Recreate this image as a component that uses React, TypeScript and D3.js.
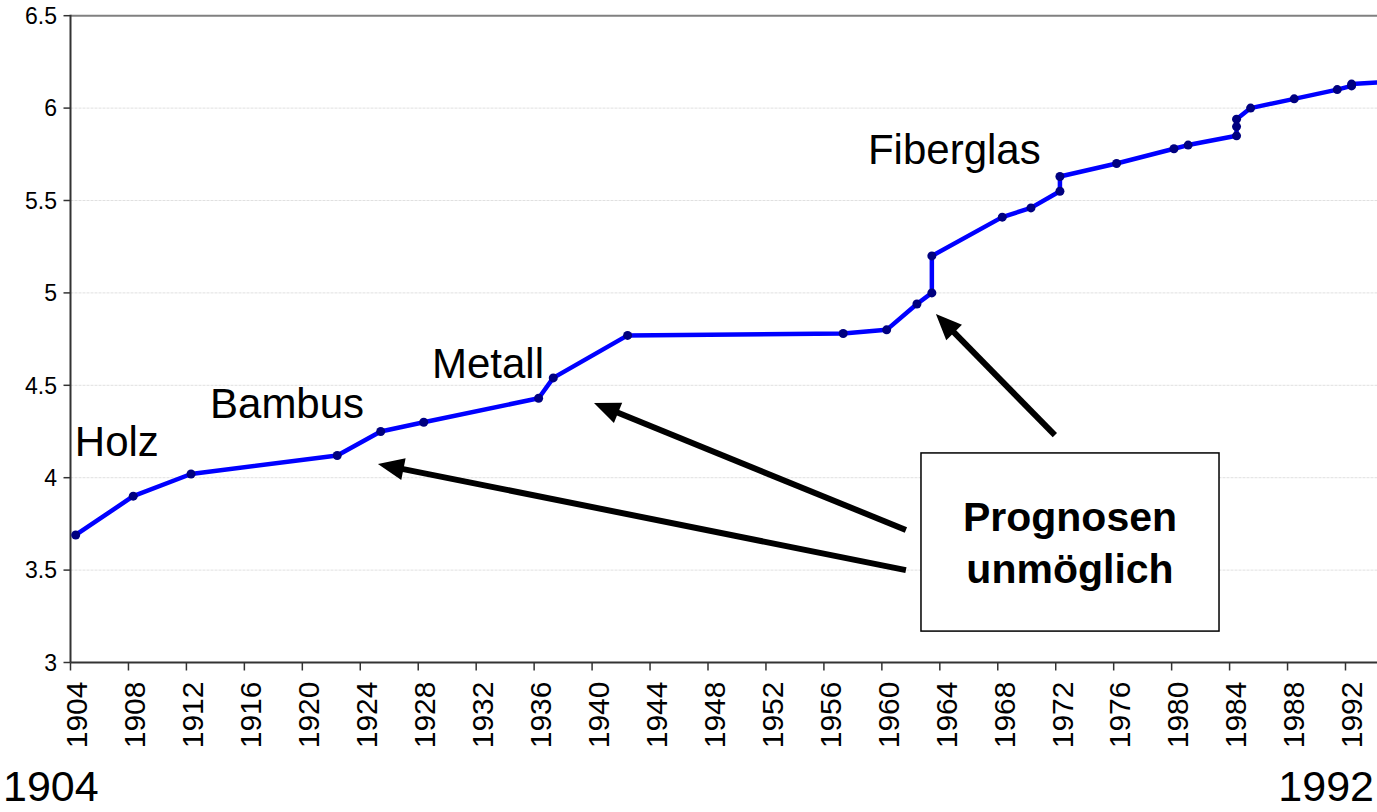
import React from 'react';
import * as d3 from 'd3';

const recordYears = [1904.36, 1908.33, 1912.32, 1922.41, 1925.41, 1928.38, 1936.31, 1937.32, 1942.45, 1957.33, 1960.33, 1962.42, 1963.45, 1963.45, 1968.31, 1970.29, 1972.29, 1972.29, 1976.2, 1980.16, 1981.14, 1984.48, 1984.48, 1984.48, 1985.45, 1988.46, 1991.43, 1992.42, 1992.42, 1994.6];
const recordHeights = [3.69, 3.9, 4.02, 4.12, 4.25, 4.3, 4.43, 4.54, 4.77, 4.78, 4.8, 4.94, 5.0, 5.2, 5.41, 5.46, 5.55, 5.63, 5.7, 5.78, 5.8, 5.85, 5.9, 5.94, 6.0, 6.05, 6.1, 6.12, 6.13, 6.14];

const xTickYears = d3.range(1904, 1993, 4);
const yTickValues = [3, 3.5, 4, 4.5, 5, 5.5, 6, 6.5];

const materialLabels = ['Holz', 'Bambus', 'Metall', 'Fiberglas'];
const materialLabelYears = [1904.3, 1913.63, 1928.95, 1959.04];
const materialLabelHeights = [4.117, 4.323, 4.54, 5.7];

const arrowFromYears = [1961.66, 1961.66, 1971.94];
const arrowFromHeights = [3.5, 3.717, 4.23];
const arrowToYears = [1925.22, 1940.13, 1963.73];
const arrowToHeights = [4.074, 4.404, 4.886];

const boxYears = [1962.7, 1983.27];
const boxHeights = [4.134, 3.17];
const boxLines = ['Prognosen', 'unmöglich'];

const rangeLabels = ['1904', '1992'];

const W = 1377;
const H = 812;
const FONT = '"Liberation Sans", Arial, Helvetica, sans-serif';

export default function App() {
  const x = d3.scaleLinear().domain([1904, 1992]).range([70.5, 1345.5]);
  const y = d3.scaleLinear().domain([3, 6.5]).range([662.5, 15.7]);
  const pts: [number, number][] = recordYears.map((yr, i) => [yr, recordHeights[i]]);
  const line = d3.line<[number, number]>().x(d => x(d[0])).y(d => y(d[1]));
  const plotLeft = x(1904);
  const plotBottom = y(3);
  const plotTop = y(6.5);

  const arrows = arrowFromYears.map((_, i) => {
    const x1 = x(arrowFromYears[i]);
    const y1 = y(arrowFromHeights[i]);
    const x2 = x(arrowToYears[i]);
    const y2 = y(arrowToHeights[i]);
    const dx = x2 - x1;
    const dy = y2 - y1;
    const len = Math.hypot(dx, dy);
    const ux = dx / len;
    const uy = dy / len;
    const hl = 26;
    const hw = 11;
    const bx = x2 - ux * hl;
    const by = y2 - uy * hl;
    const px = -uy;
    const py = ux;
    const head = `${x2},${y2} ${bx + px * hw},${by + py * hw} ${bx - px * hw},${by - py * hw}`;
    return { x1, y1, bx: x2 - ux * (hl - 4), by: y2 - uy * (hl - 4), head };
  });

  const bx0 = x(boxYears[0]);
  const bx1 = x(boxYears[1]);
  const by0 = y(boxHeights[0]);
  const by1 = y(boxHeights[1]);

  return (
    <svg width={W} height={H} style={{ position: 'absolute', left: 0, top: 0, display: 'block', background: '#fff' }} fontFamily={FONT}>
      <defs>
        <clipPath id="plotClip">
          <rect x={plotLeft} y={0} width={W - plotLeft} height={plotBottom} />
        </clipPath>
      </defs>
      {yTickValues.filter(v => v > 3 && v < 6.5).map(v => (
        <line key={'g' + v} x1={plotLeft} x2={W} y1={y(v)} y2={y(v)} stroke="#e0e0e0" strokeWidth={1} strokeDasharray="3,1" />
      ))}
      <line x1={plotLeft} x2={W} y1={plotTop} y2={plotTop} stroke="#808080" strokeWidth={2} />
      {yTickValues.map(v => (
        <g key={'y' + v}>
          <line x1={plotLeft - 7} x2={plotLeft} y1={y(v)} y2={y(v)} stroke="#333" strokeWidth={1.5} />
          <text x={57} y={y(v)} dy="0.36em" textAnchor="end" fontSize={23} fill="#000">{String(v)}</text>
        </g>
      ))}
      {xTickYears.map(t => (
        <g key={'x' + t}>
          <line x1={x(t)} x2={x(t)} y1={plotBottom} y2={plotBottom + 8} stroke="#333" strokeWidth={1.5} />
          <text transform={`translate(${x(t) + 6},${plotBottom + 19}) rotate(-90)`} dy="0.36em" textAnchor="end" fontSize={30} fill="#000">{String(t)}</text>
        </g>
      ))}
      <line x1={plotLeft} x2={plotLeft} y1={plotTop - 1} y2={plotBottom} stroke="#333" strokeWidth={2} />
      <line x1={plotLeft} x2={W} y1={plotBottom} y2={plotBottom} stroke="#333" strokeWidth={2} />
      <g clipPath="url(#plotClip)">
        <path d={line(pts) || ''} fill="none" stroke="#0000ff" strokeWidth={4.5} strokeLinejoin="round" />
        {pts.map((p, i) => (
          <circle key={'p' + i} cx={x(p[0])} cy={y(p[1])} r={4.5} fill="#000080" />
        ))}
      </g>
      {materialLabels.map((t, i) => (
        <text key={t} x={x(materialLabelYears[i])} y={y(materialLabelHeights[i])} fontSize={42} fill="#000">{t}</text>
      ))}
      {arrows.map((a, i) => (
        <g key={'a' + i}>
          <line x1={a.x1} y1={a.y1} x2={a.bx} y2={a.by} stroke="#000" strokeWidth={6} />
          <polygon points={a.head} fill="#000" />
        </g>
      ))}
      <rect x={bx0} y={by0} width={bx1 - bx0} height={by1 - by0} fill="#fff" stroke="#000" strokeWidth={1.5} />
      {boxLines.map((t, i) => (
        <text key={t} x={(bx0 + bx1) / 2} y={by0 + 78 + i * 52} textAnchor="middle" fontSize={41} fontWeight="bold" fill="#000">{t}</text>
      ))}
      <text x={3} y={801} fontSize={43} fill="#000">{rangeLabels[0]}</text>
      <text x={1374} y={801} textAnchor="end" fontSize={43} fill="#000">{rangeLabels[1]}</text>
    </svg>
  );
}
